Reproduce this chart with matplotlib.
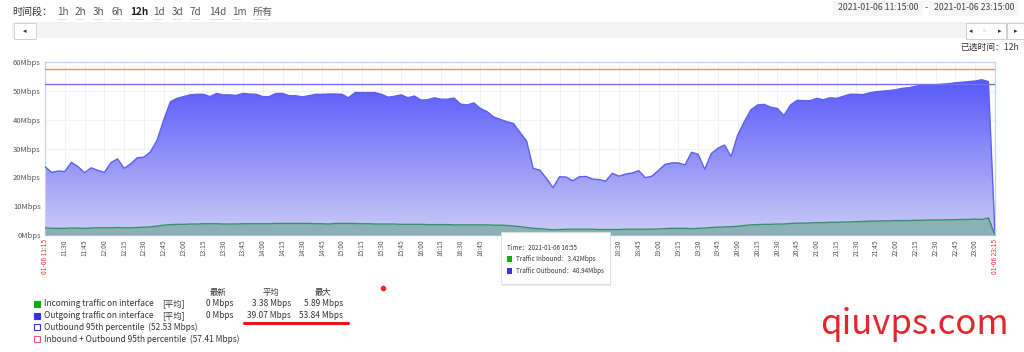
import numpy as np
import matplotlib
matplotlib.use('Agg')
import matplotlib.pyplot as plt
from matplotlib.patches import Rectangle, PathPatch, FancyBboxPatch
from matplotlib.colors import LinearSegmentedColormap

plt.rcParams['font.family'] = ['Noto Sans CJK SC', 'DejaVu Sans']
plt.rcParams['axes.unicode_minus'] = False

# 5 分钟采样，11:15 ~ 23:15
outbound = [23.7, 21.7, 22.2, 22.0, 25.2, 23.7, 21.6, 23.3, 22.4, 21.7,
            25.1, 26.4, 23.1, 24.7, 26.8, 27.0, 28.9, 32.9, 39.9, 46.2,
            47.4, 48.0, 48.6, 48.8, 48.8, 48.0, 49.1, 48.6, 48.6, 48.4,
            49.1, 48.9, 48.8, 48.0, 48.0, 49.1,
            49.1, 48.3, 48.3, 47.9,
            48.3, 48.8, 48.8, 48.9, 48.9, 48.8, 47.6, 49.4, 49.4, 49.4,
            49.4, 48.8, 47.8, 48.1, 48.6, 47.6, 48.2, 46.8, 46.9, 47.6,
            47.1, 47.1, 47.5, 45.4, 45.1, 45.8, 43.9, 42.8, 40.94, 40.1,
            39.3, 38.7, 35.6, 32.6, 23.1, 22.5, 19.7, 16.4, 20.2, 20.1,
            18.8, 20.2, 20.3, 19.4, 19.2, 18.7, 21.4, 20.4, 21.1, 21.5,
            22.3, 19.9, 20.4, 22.4, 24.5, 25.0, 25.0,
            24.3, 28.7, 28.0,
            22.8, 28.3, 30.1, 31.2, 27.2, 34.7, 39.3, 43.4, 45.1, 45.3,
            44.3, 43.9, 41.4, 45.1, 46.7, 46.6, 46.6, 47.4, 46.9, 47.6,
            47.4, 48.1, 48.8, 48.8, 48.7, 49.3, 49.7, 49.9, 50.1, 50.4,
            50.9, 51.1, 51.6, 52.0, 51.9, 52.1, 52.3, 52.5, 52.8, 53.0,
            53.2, 53.4, 53.84, 53.2, 0.0]

inbound = [2.5, 2.3, 2.3, 2.3, 2.4, 2.4, 2.3, 2.4, 2.5, 2.5, 2.5,
           2.6, 2.5, 2.5, 2.6, 2.7, 2.8,
           3.1, 3.4, 3.6,
           3.7, 3.7, 3.8, 3.8, 3.9, 3.9, 3.9, 3.8, 3.8, 3.8, 3.9, 3.9, 3.9, 3.9, 3.9, 4.0,
           4.0, 4.0, 4.0, 4.0, 4.0, 3.9, 3.9, 3.8, 4.0, 4.0, 4.0, 4.0, 3.9, 3.9, 3.8, 3.8,
           3.8, 3.8, 3.7, 3.7, 3.7, 3.7, 3.6, 3.6, 3.6,
           3.6, 3.5, 3.5, 3.5, 3.5, 3.5, 3.5, 3.42, 3.4, 3.3,
           3.1, 2.9, 2.6, 2.3, 2.2, 2.0, 1.8, 1.9, 2.0, 2.0,
           2.0, 2.0, 2.0, 1.9, 1.9, 1.9, 1.9, 2.0, 2.0, 2.0, 2.0, 2.0, 2.1, 2.2, 2.3, 2.3,
           2.3, 2.2, 2.3, 2.4,
           2.6, 2.7, 2.8, 2.9, 3.0, 3.3, 3.5, 3.6, 3.7, 3.7, 3.8, 3.8, 4.0, 4.1, 4.1, 4.2,
           4.3, 4.3, 4.4, 4.4,
           4.5, 4.5, 4.6, 4.7, 4.8, 4.8, 4.9, 4.9, 5.0, 5.0, 5.0, 5.1, 5.1, 5.2, 5.2, 5.2,
           5.3, 5.3, 5.4, 5.4, 5.5, 5.4, 5.89, 0.0]

p95_out = 52.53
p95_sum = 57.41
minutes = np.arange(len(outbound)) * 5  # 距 11:15 的分钟数

tick_labels = ['01-06 11:15', '11:30', '11:45', '12:00', '12:15', '12:30', '12:45',
               '13:00', '13:15', '13:30', '13:45', '14:00', '14:15', '14:30', '14:45',
               '15:00', '15:15', '15:30', '15:45', '16:00', '16:15', '16:30', '16:45',
               '17:00', '17:15', '17:30', '17:45', '18:00', '18:15', '18:30', '18:45',
               '19:00', '19:15', '19:30', '19:45', '20:00', '20:15', '20:30', '20:45',
               '21:00', '21:15', '21:30', '21:45', '22:00', '22:15', '22:30', '22:45',
               '23:00', '01-06 23:15']
hidden = ['17:00', '17:15', '17:30', '17:45', '18:00', '18:15']  # 被提示框挡住
ranges = ['1h', '2h', '3h', '6h', '12h', '1d', '3d', '7d', '14d', '1m', '所有']

W, H = 1024, 352


def fx(x):
    return x / W


def fy(y):
    return 1 - y / H


fig = plt.figure(figsize=(10.24, 3.52), dpi=100)
fig.patch.set_facecolor('white')

ax = fig.add_axes([fx(45), fy(235), fx(995) - fx(45), fy(62) - fy(235)])
ax.set_xlim(0, 720)
ax.set_ylim(0, 60)

# 渐变填充 outbound
poly = ax.fill_between(minutes, outbound, 0, color='none', lw=0)
clip = PathPatch(poly.get_paths()[0], transform=ax.transData, fc='none', ec='none')
ax.add_patch(clip)
cmap = LinearSegmentedColormap.from_list('g', ['#cbcbf7', '#5555fb'])
grad = np.linspace(0, 1, 256).reshape(-1, 1)
img = ax.imshow(grad, extent=[0, 720, 0, 55], origin='lower', aspect='auto',
                cmap=cmap, zorder=2)
img.set_clip_path(clip)
ax.set_xlim(0, 720)
ax.set_ylim(0, 60)
ax.plot(minutes, outbound, color='#5f5ff0', lw=1.0, zorder=3)

ax.fill_between(minutes, inbound, 0, color='#8db0b6', lw=0, zorder=4)
ax.plot(minutes, inbound, color='#33936a', lw=1.0, zorder=5)

ax.axhline(p95_sum, color='#f28a6e', lw=1.0, zorder=3)
ax.axhline(p95_out, color='#7272f2', lw=1.0, zorder=3)

xt = np.arange(0, 721, 15)
ax.set_xticks(xt)
ax.set_xticklabels(tick_labels, rotation=90, fontsize=4.8, color='#555555')
for i, lab in enumerate(ax.get_xticklabels()):
    if i == 0 or i == len(tick_labels) - 1:
        lab.set_color('#ee3333')
    if tick_labels[i] in hidden:
        lab.set_visible(False)
ax.set_yticks(np.arange(0, 61, 10))
ax.set_yticklabels([f'{v}Mbps' for v in range(0, 61, 10)], fontsize=5.5, color='#555555')
ax.tick_params(length=0, pad=3)
ax.grid(True, color='#eef0fa', lw=0.6, zorder=0)
ax.set_axisbelow(True)
for s in ax.spines.values():
    s.set_color('#c8d0f2')
    s.set_linewidth(0.9)

# 顶部控件
fig.text(fx(12), fy(12), '时间段：', fontsize=7.2, color='#333333', va='center')
xs = [57, 75, 93, 111, 130, 153, 172, 190, 209, 232, 253]
for x, r in zip(xs, ranges):
    fig.text(fx(x), fy(12), r, fontsize=7.2, color='#222222' if r == '12h' else '#555555',
             va='center', fontweight='bold' if r == '12h' else 'normal')
    w = 9 + 4.5 * (len(r) - 2) if r != '所有' else 15
    fig.add_artist(plt.Line2D([fx(x), fx(x + w)], [fy(19), fy(19)], color='#aaaaaa',
                              lw=0.5, ls=(0, (1, 1))))

fig.add_artist(Rectangle((fx(12), fy(38)), fx(1024 - 12), fy(22) - fy(38),
                         fc='#f3f3f3', ec='none'))
fig.add_artist(Rectangle((fx(14), fy(39)), fx(22), fy(23) - fy(39),
                         fc='white', ec='#c8c8c8', lw=0.6))
fig.text(fx(25), fy(31), '◂', fontsize=5, ha='center', va='center', color='#333333',
         family='DejaVu Sans')
fig.add_artist(Rectangle((fx(966), fy(39)), fx(40), fy(23) - fy(39),
                         fc='white', ec='#c8c8c8', lw=0.6))
fig.text(fx(971), fy(31), '◂', fontsize=5, ha='center', va='center', color='#333333',
         family='DejaVu Sans')
fig.text(fx(985), fy(31), ':::', fontsize=4, ha='center', va='center', color='#999999')
fig.text(fx(1000), fy(31), '▸', fontsize=5, ha='center', va='center', color='#333333',
         family='DejaVu Sans')
fig.add_artist(Rectangle((fx(1007), fy(39)), fx(20), fy(23) - fy(39),
                         fc='white', ec='#c8c8c8', lw=0.6))
fig.text(fx(1016), fy(31), '▸', fontsize=5, ha='center', va='center', color='#333333',
         family='DejaVu Sans')

for cx, s in [(878, '2021-01-06 11:15:00'), (974, '2021-01-06 23:15:00')]:
    fig.add_artist(Rectangle((fx(cx - 45), fy(16)), fx(90), fy(1) - fy(16),
                             fc='#f6f6f6', ec='none'))
    fig.text(fx(cx), fy(8), s, fontsize=6.3, ha='center', va='center', color='#444444')
fig.text(fx(926), fy(8), '-', fontsize=6.3, ha='center', va='center', color='#444444')
fig.text(fx(1019), fy(47), '已选时间：12h', fontsize=6.3, ha='right', va='center',
         color='#333333')

# 底部图例表
fs = 6.0
fig.text(fx(218), fy(292), '最新', fontsize=fs, ha='center', va='center', color='#333333')
fig.text(fx(271), fy(292), '平均', fontsize=fs, ha='center', va='center', color='#333333')
fig.text(fx(323), fy(292), '最大', fontsize=fs, ha='center', va='center', color='#333333')

rows = [('Incoming traffic on interface', '#11aa11', True, '0 Mbps', '3.38 Mbps', '5.89 Mbps'),
        ('Outgoing traffic on interface', '#3333ee', True, '0 Mbps', '39.07 Mbps', '53.84 Mbps'),
        (f'Outbound 95th percentile  ({p95_out:.2f} Mbps)', '#3333ee', False, '', '', ''),
        (f'Inbound + Outbound 95th percentile  ({p95_sum:.2f} Mbps)', '#ee5588', False, '', '', '')]
ys = [304, 316, 327, 339]
for y, (name, c, filled, last, avg, mx) in zip(ys, rows):
    fig.add_artist(Rectangle((fx(34), fy(y + 3)), fx(6), fy(y - 3) - fy(y + 3),
                             fc=c if filled else 'white', ec=c, lw=0.8))
    fig.text(fx(44), fy(y), name, fontsize=fs, va='center', color='#333333')
    if filled:
        fig.text(fx(162), fy(y), '[平均]', fontsize=fs, va='center', color='#333333')
        fig.text(fx(233), fy(y), last, fontsize=fs, va='center', ha='right', color='#333333')
        fig.text(fx(291), fy(y), avg, fontsize=fs, va='center', ha='right', color='#333333')
        fig.text(fx(343), fy(y), mx, fontsize=fs, va='center', ha='right', color='#333333')

fig.add_artist(plt.Line2D([fx(244), fx(348)], [fy(323), fy(323)], color='#ee1111',
                          lw=2.2, solid_capstyle='round'))
fig.add_artist(plt.Line2D([fx(383)], [fy(288)], marker='o', ms=3, color='#ee2222', lw=0))

# 悬浮提示框
fig.add_artist(FancyBboxPatch((fx(502), fy(286)), fx(109), fy(234) - fy(286),
                              boxstyle='square,pad=0', fc='#e8e8e8', ec='none', zorder=19))
fig.add_artist(FancyBboxPatch((fx(501), fy(284)), fx(109), fy(232) - fy(284),
                              boxstyle='square,pad=0', fc='white', ec='#dddddd', lw=0.6,
                              zorder=20))
fig.text(fx(507), fy(248), 'Time：2021-01-06 16:55', fontsize=4.5, va='center',
         color='#333333', zorder=21)
fig.add_artist(Rectangle((fx(507), fy(262)), fx(5), fy(256) - fy(262), fc='#11aa11',
                         ec='none', zorder=21))
fig.text(fx(516), fy(259), 'Traffic Inbound：3.42Mbps', fontsize=4.5, va='center',
         color='#333333', zorder=21)
fig.add_artist(Rectangle((fx(507), fy(274)), fx(5), fy(268) - fy(274), fc='#3333ee',
                         ec='none', zorder=21))
fig.text(fx(516), fy(271), 'Traffic Outbound：40.94Mbps', fontsize=4.5, va='center',
         color='#333333', zorder=21)

# 水印
fig.text(fx(914), fy(324), 'qiuvps.com', fontsize=25, ha='center', va='center',
         color='#e3262b')

fig.savefig('out.png', dpi=100)
